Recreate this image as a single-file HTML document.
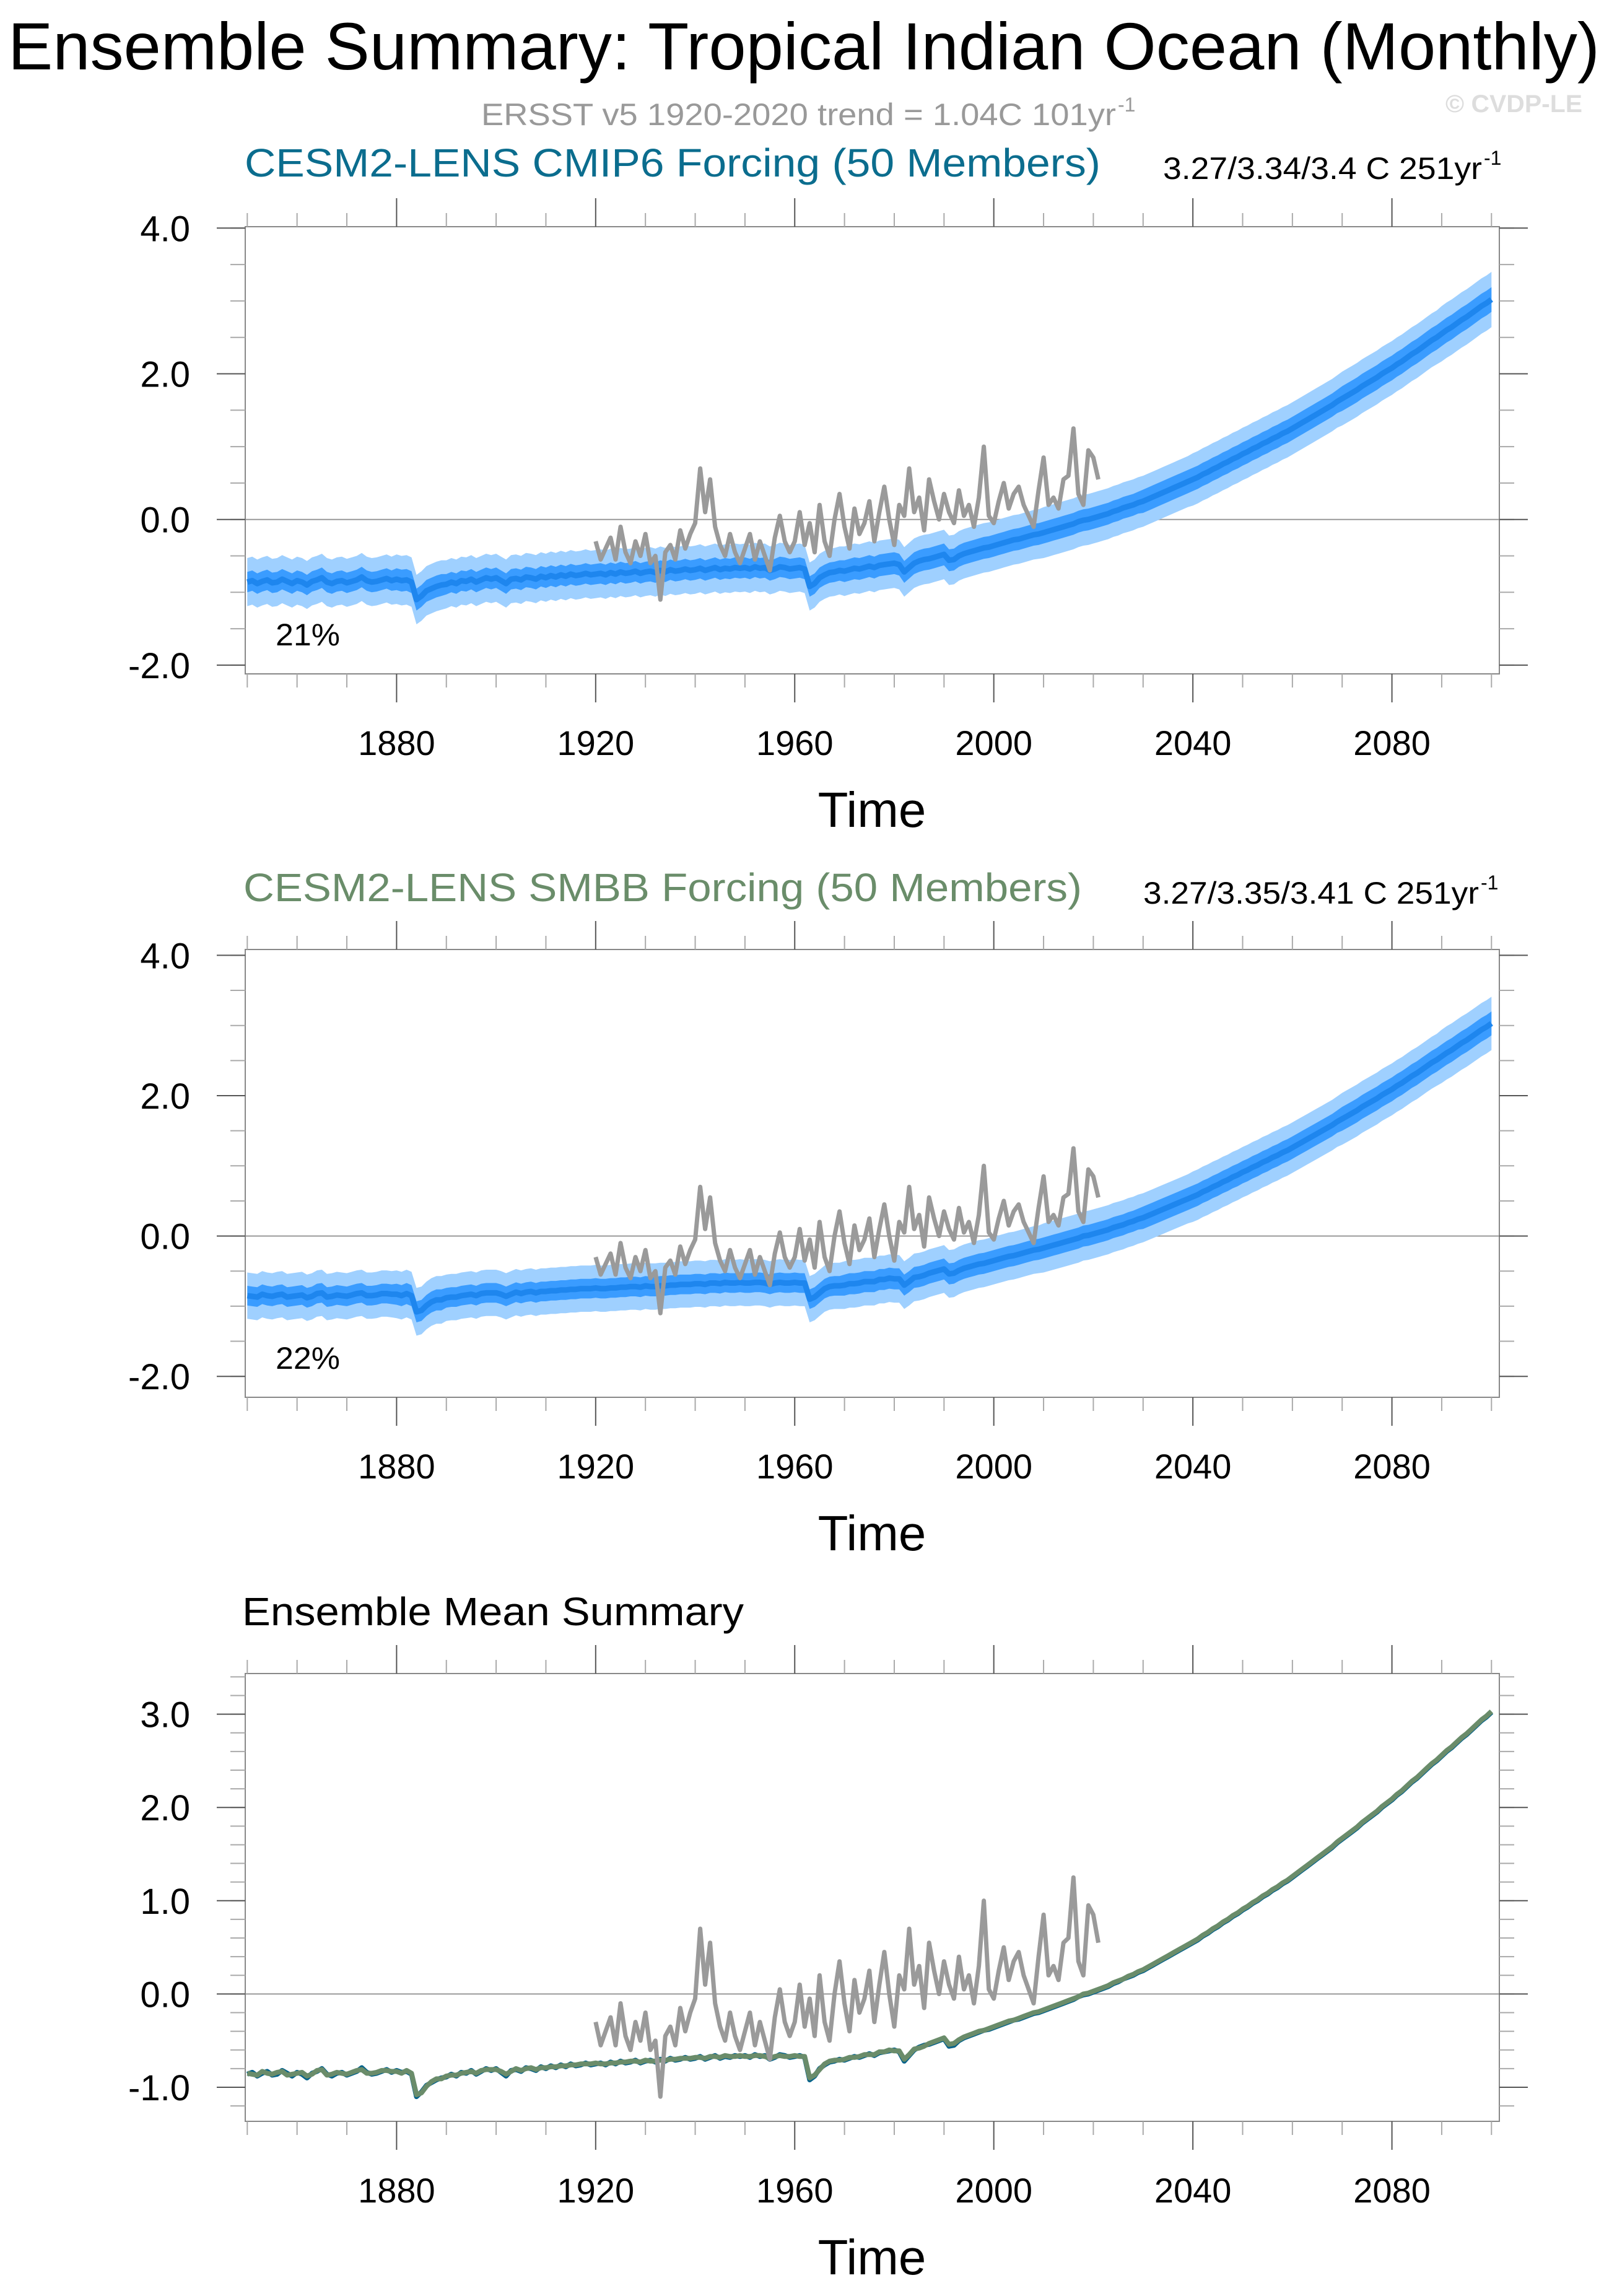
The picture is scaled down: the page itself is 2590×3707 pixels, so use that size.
<!DOCTYPE html>
<html><head><meta charset="utf-8"><title>Ensemble Summary: Tropical Indian Ocean</title>
<style>
html,body{margin:0;padding:0;background:#fff;}
svg{display:block;font-family:"Liberation Sans",Arial,sans-serif;}
</style></head>
<body>
<svg id="fig" xmlns="http://www.w3.org/2000/svg" width="2590" height="3707" viewBox="0 0 2590 3707">
<rect x="0" y="0" width="2590" height="3707" fill="#fff"/>
<text x="13" y="112" font-size="108" textLength="2570" lengthAdjust="spacingAndGlyphs">Ensemble Summary: Tropical Indian Ocean (Monthly)</text>
<text x="777" y="202" font-size="50" fill="#999" textLength="1025" lengthAdjust="spacingAndGlyphs">ERSST v5 1920-2020 trend = 1.04C 101yr</text>
<text x="1805" y="180" font-size="32" fill="#999">-1</text>
<text x="2334" y="181" font-size="40" font-weight="bold" fill="#ddd" textLength="221" lengthAdjust="spacingAndGlyphs">© CVDP-LE</text>

<text x="395" y="285" font-size="64" fill="#0b6d8e" textLength="1382" lengthAdjust="spacingAndGlyphs">CESM2-LENS CMIP6 Forcing (50 Members)</text>
<text x="1878" y="289" font-size="50" textLength="515" lengthAdjust="spacingAndGlyphs">3.27/3.34/3.4 C 251yr</text>
<text x="2396" y="266" font-size="32">-1</text>

<text x="393" y="1455" font-size="64" fill="#6a8d6a" textLength="1354" lengthAdjust="spacingAndGlyphs">CESM2-LENS SMBB Forcing (50 Members)</text>
<text x="1846" y="1459" font-size="50" textLength="542" lengthAdjust="spacingAndGlyphs">3.27/3.35/3.41 C 251yr</text>
<text x="2391" y="1436" font-size="32">-1</text>

<text x="391" y="2624" font-size="64" textLength="810" lengthAdjust="spacingAndGlyphs">Ensemble Mean Summary</text>
<g id="plots"></g>
</svg>
<script>
// ---- data ----
const years = [];
const startYear = 1850;
const cmip6Mean = [
-0.86,-0.84,-0.88,-0.85,-0.83,-0.87,-0.86,-0.82,-0.85,-0.88,
-0.84,-0.86,-0.90,-0.85,-0.83,-0.80,-0.86,-0.88,-0.85,-0.84,
-0.87,-0.85,-0.83,-0.79,-0.84,-0.86,-0.85,-0.83,-0.81,-0.84,
-0.82,-0.84,-0.83,-0.86,-1.10,-1.05,-0.98,-0.95,-0.92,-0.90,
-0.89,-0.86,-0.88,-0.84,-0.85,-0.82,-0.86,-0.83,-0.80,-0.82,
-0.80,-0.84,-0.88,-0.82,-0.81,-0.83,-0.79,-0.80,-0.82,-0.78,
-0.80,-0.77,-0.79,-0.76,-0.78,-0.75,-0.77,-0.76,-0.74,-0.76,
-0.75,-0.74,-0.76,-0.73,-0.75,-0.72,-0.74,-0.73,-0.71,-0.74,
-0.72,-0.71,-0.73,-0.70,-0.72,-0.69,-0.71,-0.70,-0.68,-0.70,
-0.69,-0.67,-0.70,-0.68,-0.66,-0.69,-0.67,-0.68,-0.66,-0.67,
-0.66,-0.68,-0.65,-0.67,-0.66,-0.70,-0.68,-0.65,-0.66,-0.68,
-0.67,-0.66,-0.68,-0.92,-0.88,-0.80,-0.76,-0.73,-0.72,-0.70,
-0.71,-0.69,-0.67,-0.68,-0.66,-0.64,-0.66,-0.63,-0.62,-0.61,
-0.60,-0.62,-0.72,-0.66,-0.60,-0.57,-0.55,-0.54,-0.52,-0.50,
-0.48,-0.56,-0.55,-0.50,-0.47,-0.45,-0.43,-0.41,-0.39,-0.38,
-0.36,-0.34,-0.32,-0.30,-0.28,-0.27,-0.25,-0.23,-0.21,-0.20,
-0.18,-0.16,-0.14,-0.12,-0.10,-0.08,-0.06,-0.03,-0.01,0.00,
0.02,0.04,0.06,0.08,0.11,0.13,0.16,0.18,0.20,0.23,
0.25,0.28,0.31,0.34,0.37,0.40,0.43,0.46,0.49,0.52,
0.55,0.58,0.62,0.65,0.69,0.72,0.76,0.79,0.83,0.86,
0.90,0.93,0.97,1.00,1.04,1.07,1.11,1.14,1.18,1.21,
1.25,1.29,1.33,1.37,1.41,1.45,1.49,1.53,1.57,1.62,
1.66,1.70,1.74,1.78,1.83,1.87,1.91,1.95,2.00,2.04,
2.08,2.13,2.17,2.22,2.27,2.31,2.36,2.41,2.46,2.50,
2.55,2.60,2.64,2.69,2.74,2.78,2.83,2.88,2.93,2.97,
3.02];
const smbbMean = [
-0.85,-0.86,-0.87,-0.83,-0.85,-0.86,-0.84,-0.83,-0.87,-0.86,
-0.85,-0.84,-0.88,-0.86,-0.82,-0.81,-0.87,-0.86,-0.84,-0.85,
-0.86,-0.84,-0.82,-0.81,-0.85,-0.85,-0.84,-0.82,-0.82,-0.83,
-0.83,-0.85,-0.82,-0.85,-1.08,-1.06,-0.99,-0.94,-0.91,-0.91,
-0.88,-0.87,-0.87,-0.85,-0.84,-0.83,-0.85,-0.82,-0.81,-0.81,
-0.81,-0.83,-0.86,-0.83,-0.80,-0.82,-0.80,-0.79,-0.81,-0.79,
-0.79,-0.78,-0.78,-0.77,-0.77,-0.76,-0.76,-0.75,-0.75,-0.75,
-0.74,-0.75,-0.75,-0.74,-0.74,-0.73,-0.73,-0.72,-0.72,-0.73,
-0.71,-0.72,-0.72,-0.71,-0.71,-0.70,-0.70,-0.69,-0.69,-0.69,
-0.68,-0.68,-0.69,-0.67,-0.67,-0.68,-0.66,-0.67,-0.67,-0.66,
-0.67,-0.67,-0.66,-0.66,-0.67,-0.69,-0.67,-0.66,-0.67,-0.67,
-0.66,-0.67,-0.67,-0.90,-0.87,-0.81,-0.75,-0.72,-0.71,-0.71,
-0.70,-0.68,-0.68,-0.67,-0.65,-0.65,-0.65,-0.62,-0.62,-0.60,
-0.61,-0.61,-0.70,-0.65,-0.59,-0.58,-0.56,-0.53,-0.51,-0.49,
-0.47,-0.54,-0.53,-0.49,-0.46,-0.44,-0.42,-0.40,-0.39,-0.37,
-0.35,-0.33,-0.31,-0.29,-0.28,-0.26,-0.24,-0.22,-0.20,-0.19,
-0.17,-0.15,-0.13,-0.11,-0.09,-0.07,-0.05,-0.03,0.00,0.01,
0.03,0.05,0.07,0.09,0.12,0.14,0.16,0.19,0.21,0.24,
0.26,0.29,0.32,0.35,0.38,0.41,0.44,0.47,0.50,0.53,
0.56,0.59,0.63,0.66,0.70,0.73,0.77,0.80,0.84,0.87,
0.91,0.94,0.98,1.01,1.05,1.08,1.12,1.15,1.19,1.22,
1.26,1.30,1.34,1.38,1.42,1.46,1.50,1.54,1.58,1.63,
1.67,1.71,1.75,1.79,1.84,1.88,1.92,1.96,2.01,2.05,
2.09,2.14,2.18,2.23,2.28,2.32,2.37,2.42,2.47,2.51,
2.56,2.61,2.65,2.70,2.75,2.79,2.84,2.89,2.94,2.98,
3.03];
// decadal half-widths of ensemble spread (outer = full range, inner = interquartile-ish)
const outerSpread = [0.33,0.33,0.33,0.34,0.33,0.33,0.33,0.33,0.33,0.33,0.33,0.33,0.34,0.34,0.34,0.34,0.35,0.35,0.35,0.36,0.36,0.36,0.37,0.37,0.38,0.38];
const innerSpread = [0.14,0.14,0.14,0.15,0.14,0.14,0.14,0.14,0.14,0.14,0.14,0.14,0.15,0.15,0.15,0.15,0.15,0.15,0.16,0.16,0.16,0.16,0.17,0.17,0.17,0.17];
const obsStart = 1920;
const obsValues = [
-0.30,-0.55,-0.40,-0.25,-0.55,-0.10,-0.45,-0.60,-0.30,-0.50,
-0.20,-0.60,-0.50,-1.10,-0.45,-0.35,-0.55,-0.15,-0.40,-0.20,
-0.05,0.70,0.10,0.55,-0.10,-0.35,-0.50,-0.20,-0.45,-0.60,
-0.40,-0.20,-0.55,-0.30,-0.50,-0.70,-0.25,0.05,-0.30,-0.45,
-0.30,0.10,-0.35,-0.05,-0.45,0.20,-0.30,-0.50,0.00,0.35,
-0.10,-0.40,0.15,-0.20,-0.05,0.25,-0.30,0.10,0.45,0.00,
-0.35,0.20,0.05,0.70,0.10,0.30,-0.15,0.55,0.25,0.00,
0.35,0.10,-0.05,0.40,0.05,0.20,-0.10,0.30,1.00,0.05,
-0.05,0.25,0.50,0.15,0.35,0.45,0.20,0.05,-0.10,0.40,
0.85,0.20,0.30,0.15,0.55,0.60,1.25,0.35,0.20,0.95,0.85,0.55];
const xTickLabels = ["1880","1920","1960","2000","2040","2080"];
const yTickLabelsA = ["-2.0","0.0","2.0","4.0"];
const yTickLabelsC = ["-1.0","0.0","1.0","2.0","3.0"];
for (let i = 0; i < cmip6Mean.length; i++) years.push(startYear + i);

// ---- layout ----
const NS = "http://www.w3.org/2000/svg";
const root = document.getElementById("plots");
const X0 = 396, X1 = 2421;
function xs(yr){ return 399.3 + (yr - 1850) * 8.036; }
function mk(tag, attrs, parent){
  const e = document.createElementNS(NS, tag);
  for (const k in attrs) e.setAttribute(k, attrs[k]);
  (parent || root).appendChild(e);
  return e;
}
const panels = [
  {id:"cmip6", top:366, bot:1088, y0:838.7, k:117.6, major:[-2,0,2,4], minorStep:0.5, minorLo:-2, minorHi:4, labels:yTickLabelsA, kind:"band", mean:cmip6Mean, pct:"21%", pctY:1042},
  {id:"smbb", top:1533, bot:2256, y0:1995.6, k:113.3, major:[-2,0,2,4], minorStep:0.5, minorLo:-2, minorHi:4, labels:yTickLabelsA, kind:"band", mean:smbbMean, pct:"22%", pctY:2210},
  {id:"mean", top:2702, bot:3425, y0:3219.4, k:150.6, major:[-1,0,1,2,3], minorStep:0.2, minorLo:-1.2, minorHi:3.4, labels:yTickLabelsC, kind:"lines"}
];
panels.forEach(p => {
  const ys = v => p.y0 - v * p.k;
  const g = mk("g", {});
  
  
  const clip = mk("clipPath", {id:"clip-" + p.id}, g);
  mk("rect", {x:X0, y:p.top, width:X1 - X0, height:p.bot - p.top}, clip);
  const z = mk("line", {x1:X0, x2:X1, y1:ys(0), y2:ys(0), stroke:"#999", "stroke-width":2}, g);
  
  
  const dg = mk("g", {"clip-path":"url(#clip-" + p.id + ")"}, g);
  if (p.kind === "band") {
    [["outer", outerSpread, "#9fd0ff"], ["inner", innerSpread, "#3a9cff"]].forEach(([nm, sp, col]) => {
      let up = [], lo = [];
      years.forEach((yr, i) => {
        const s = sp[Math.floor(i / 10)];
        up.push(xs(yr).toFixed(1) + "," + ys(p.mean[i] + s).toFixed(1));
        lo.push(xs(yr).toFixed(1) + "," + ys(p.mean[i] - s).toFixed(1));
      });
      const poly = mk("polygon", {points: up.concat(lo.reverse()).join(" "), fill: col}, dg);
      
      
    });
    const ml = mk("polyline", {points: years.map((yr, i) => xs(yr).toFixed(1) + "," + ys(p.mean[i]).toFixed(1)).join(" "), fill:"none", stroke:"#1e86ee", "stroke-width":9, "stroke-linejoin":"round"}, dg);
    
    
  } else {
    [["cmip6-mean-line", cmip6Mean, "#04628a"], ["smbb-mean-line", smbbMean, "#6a8c6a"]].forEach(([nm, arr, col]) => {
      const l = mk("polyline", {points: years.map((yr, i) => xs(yr).toFixed(1) + "," + ys(arr[i]).toFixed(1)).join(" "), fill:"none", stroke:col, "stroke-width":8, "stroke-linejoin":"round"}, dg);
      
      
    });
  }
  const ob = mk("polyline", {points: obsValues.map((v, i) => xs(obsStart + i).toFixed(1) + "," + ys(v).toFixed(1)).join(" "), fill:"none", stroke:"#9a9a9a", "stroke-width":7, "stroke-linejoin":"round"}, dg);
  
  
  const bx = mk("rect", {x:X0, y:p.top, width:X1 - X0, height:p.bot - p.top, fill:"none", stroke:"#888", "stroke-width":2}, g);
  
  
  for (let yr = 1850; yr <= 2100; yr += 10) {
    const major = (yr - 1880) % 40 === 0 && yr >= 1880;
    const L = major ? 46 : 22;
    const col = major ? "#555" : "#aaa";
    mk("line", {x1:xs(yr), x2:xs(yr), y1:p.top, y2:p.top - L, stroke:col, "stroke-width":2}, g);
    mk("line", {x1:xs(yr), x2:xs(yr), y1:p.bot, y2:p.bot + L, stroke:col, "stroke-width":2}, g);
  }
  xTickLabels.forEach(lb => {
    const t = mk("text", {x:xs(+lb), y:p.bot + 131, "font-size":56, "text-anchor":"middle"}, g);
    t.textContent = lb;
    
    
  });
  const nMinor = Math.round((p.minorHi - p.minorLo) / p.minorStep);
  for (let j = 0; j <= nMinor; j++) {
    const v = p.minorLo + j * p.minorStep;
    const yy = ys(v);
    if (yy < p.top - 1 || yy > p.bot + 1) continue;
    mk("line", {x1:X0, x2:X0 - 24, y1:yy, y2:yy, stroke:"#aaa", "stroke-width":2}, g);
    mk("line", {x1:X1, x2:X1 + 24, y1:yy, y2:yy, stroke:"#aaa", "stroke-width":2}, g);
  }
  p.major.forEach((v, i) => {
    const yy = ys(v);
    mk("line", {x1:X0, x2:X0 - 46, y1:yy, y2:yy, stroke:"#555", "stroke-width":2}, g);
    mk("line", {x1:X1, x2:X1 + 46, y1:yy, y2:yy, stroke:"#555", "stroke-width":2}, g);
    const t = mk("text", {x:307, y:yy + 21, "font-size":58, "text-anchor":"end"}, g);
    t.textContent = p.labels[i];
    
    
  });
  const tt = mk("text", {x:1408, y:p.bot + 247, "font-size":80, "text-anchor":"middle"}, g);
  tt.textContent = "Time";
  
  
  if (p.pct) {
    const pt = mk("text", {x:445, y:p.pctY, "font-size":50, textLength:104, lengthAdjust:"spacingAndGlyphs"}, g);
    pt.textContent = p.pct;
    
    
  }
});
</script>
</body></html>
